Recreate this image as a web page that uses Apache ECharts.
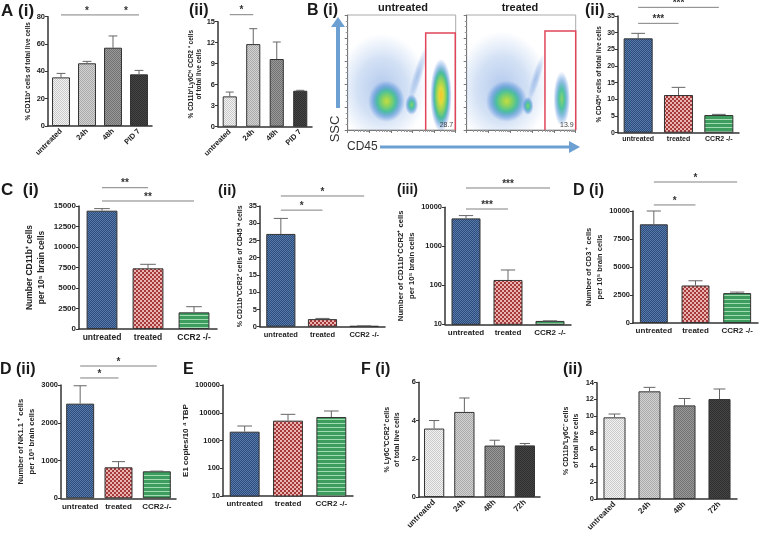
<!DOCTYPE html>
<html><head><meta charset="utf-8">
<script src="https://cdn.jsdelivr.net/npm/echarts@6.0.0/dist/echarts.min.js"></script>
<style>html,body{margin:0;padding:0;background:#fff}#c{width:760px;height:535px}</style>
</head><body><div id="c"></div>
<script>
// ---------------- data ----------------
const catTime = ['untreated', '24h', '48h', 'PID 7'];
const catTimeF = ['untreated', '24h', '48h', '72h'];
const catTrt = ['untreated', 'treated', 'CCR2 -/-'];
const catTrtD2 = ['untreated', 'treated', 'CCR2-/-'];

const aiMean = [35.6, 45.9, 57.3, 37.8];
const aiErr = [38.5, 47.3, 65.9, 40.7];
const aiiMean = [4.33, 11.8, 9.67, 5.14];
const aiiErr = [4.95, 14.0, 12.1, 5.2];
const biiMean = [28.3, 11.3, 5.3];
const biiErr = [29.8, 13.6, 5.5];
const ciMean = [14430, 7400, 2030];
const ciErr = [14680, 7890, 2720];
const ciiMean = [26.9, 2.2, 0.2];
const ciiErr = [31.4, 2.4, 0.25];
const ciiiMean = [5200, 137, 12.2];
const ciiiErr = [6130, 247, 12.3];
const diMean = [8810, 3350, 2670];
const diErr = [10000, 3770, 2760];
const diiMean = [2506, 821, 715];
const diiErr = [2980, 971, 720];
const eMean = [2080, 5190, 7030];
const eErr = [3330, 8770, 11560];
const fiMean = [3.58, 4.45, 2.69, 2.70];
const fiErr = [4.0, 5.18, 2.97, 2.80];
const fiiMean = [9.83, 12.96, 11.27, 12.03];
const fiiErr = [10.23, 13.44, 12.1, 13.24];

// significance brackets: [from category, to category, y (data units), label]
const aiSig = [[0, 2, 81.3, '*'], [2, 3, 81.3, '*']];
const aiiSig = [[0, 1, 16.0, '*']];
const biiSig = [[0, 1, 32.8, '***'], [0, 2, 37.6, '***']];
const ciSig = [[0, 1, 17230, '**'], [0, 2, 15610, '**']];
const ciiSig = [[0, 2, 37.9, '*'], [0, 1, 33.8, '*']];
const ciiiSig = [[0, 2, 31260, '***'], [0, 1, 9040, '***']];
const diSig = [[0, 2, 12590, '*'], [0, 1, 10540, '*']];
const diiSig = [[0, 2, 3503, '*'], [0, 1, 3186, '*']];

// flow cytometry populations: [log10 CD45 centre, SSC % centre, log10 half-width, SSC half-height, density level, tilt]
const flowUntreated = [
  [1.60, 36, 2.1, 48, 0, 0],
  [1.80, 25, 0.85, 18, 2, 0],
  [2.96, 22, 0.3, 9, 1, 0],
  [3.25, 48, 0.22, 26, 0, -0.3],
  [4.32, 30, 0.5, 32, 3, 0]
];
const flowTreated = [
  [1.62, 36, 2.15, 50, 0, 0],
  [1.83, 25, 0.95, 18, 2, 0],
  [2.81, 21, 0.25, 8, 1, 0],
  [3.18, 45, 0.2, 22, 0, -0.3],
  [4.36, 27, 0.38, 24, 1, 0]
];
// gates: [log10 left, SSC top %, log10 right, percentage]
const gateUntreated = [3.61, 84.3, 4.98, '28.7'];
const gateTreated = [3.59, 86, 5.0, '13.9'];

// ---------------- patterns ----------------
function pat(w, h, draw) {
  const c = document.createElement('canvas'); c.width = w; c.height = h;
  draw(c.getContext('2d')); return { image: c, repeat: 'repeat' };
}
function checker(a, b, s) {
  return pat(2 * s, 2 * s, g => { g.fillStyle = a; g.fillRect(0, 0, 2 * s, 2 * s); g.fillStyle = b; g.fillRect(0, 0, s, s); g.fillRect(s, s, s, s); });
}
const FILLS = {
  u: checker('#f3f3f3', '#c9c9c9', 1),
  h24: checker('#d2d2d2', '#aaaaaa', 1),
  h48: checker('#999999', '#727272', 1),
  pid: checker('#454545', '#2f2f2f', 1),
  blue: checker('#2d4b7b', '#567bab', 1),
  red: checker('#a53a3a', '#ebb3b1', 2),
  green: pat(4, 4, g => { g.fillStyle = '#3c9d5e'; g.fillRect(0, 0, 4, 4); g.fillStyle = '#a4dab2'; g.fillRect(0, 3, 4, 1); })
};
const timeFills = ['u', 'h24', 'h48', 'pid'];
const trtFills = ['blue', 'red', 'green'];

const FONT = 'Liberation Sans';
const grids = [], xAxes = [], yAxes = [], series = [];

function barPanel(p) {
  const k = grids.length;
  grids.push({ left: p.grid[0], top: p.grid[1], width: p.grid[2], height: p.grid[3], outerBoundsMode: 'none', containLabel: false });
  xAxes.push({
    type: 'category', gridIndex: k, data: p.cats,
    axisLine: { lineStyle: { color: '#333', width: 1.5 } },
    axisTick: { alignWithLabel: true, length: 3, lineStyle: { color: '#333', width: 1 } },
    axisLabel: { interval: 0, rotate: p.rotate || 0, fontSize: p.xSize, fontWeight: 'bold', color: '#222', fontFamily: FONT, margin: p.xMargin || 4 },
    splitLine: { show: false }
  });
  const y = {
    type: p.log ? 'log' : 'value', gridIndex: k, min: p.min, max: p.max,
    axisLine: { show: true, lineStyle: { color: '#333', width: 1.5 } },
    axisTick: { show: true, length: 3, lineStyle: { color: '#333' } },
    axisLabel: { fontSize: p.tick, fontWeight: 'bold', color: '#222', fontFamily: FONT, margin: 3, formatter: v => String(v) },
    splitLine: { show: false },
    name: p.name, nameLocation: 'middle', nameRotate: 90, nameGap: p.nameGap,
    nameTextStyle: { fontSize: p.nameSize, fontWeight: 'bold', color: '#222', fontFamily: FONT, lineHeight: p.lh || p.nameSize + 2 }
  };
  if (p.log) y.logBase = 10; else y.interval = p.interval;
  yAxes.push(y);
  series.push({
    type: 'bar', xAxisIndex: k, yAxisIndex: k, barCategoryGap: p.gap, clip: true, z: 2,
    data: p.mean.map((v, i) => ({ value: v, itemStyle: { color: FILLS[p.fills[i]], borderColor: '#333', borderWidth: 1 } }))
  });
  series.push({
    type: 'custom', xAxisIndex: k, yAxisIndex: k, z: 3, clip: false,
    data: p.mean.map((v, i) => [i, v, p.err[i]]),
    renderItem(params, api) {
      const i = api.value(0);
      const top = api.coord([i, api.value(2)]);
      const base = api.coord([i, api.value(1)]);
      const hw = api.size([1, 1])[0] * 0.17;
      const st = { stroke: '#666', lineWidth: 1 };
      return { type: 'group', children: [
        { type: 'line', shape: { x1: top[0], y1: base[1], x2: top[0], y2: top[1] }, style: st },
        { type: 'line', shape: { x1: top[0] - hw, y1: top[1], x2: top[0] + hw, y2: top[1] }, style: st }
      ] };
    }
  });
  if (p.sig) {
    const sig = p.sig;
    series.push({
      type: 'custom', xAxisIndex: k, yAxisIndex: k, z: 4, clip: false, silent: true,
      data: sig.map(s => [s[0], s[1], s[2]]),
      renderItem(params, api) {
        const s = sig[params.dataIndex];
        const a = api.coord([s[0], s[2]]), b = api.coord([s[1], s[2]]);
        return { type: 'group', children: [
          { type: 'line', shape: { x1: a[0], y1: a[1], x2: b[0], y2: b[1] }, style: { stroke: '#808080', lineWidth: 1 } },
          { type: 'text', x: (a[0] + b[0]) / 2, y: a[1] + 1, style: { text: s[3], textAlign: 'center', textVerticalAlign: 'bottom', font: 'bold 10px ' + FONT, fill: '#333' } }
        ] };
      }
    });
  }
}

const GRAD = [
  [[0, 'rgba(70,125,210,0.42)'], [0.55, 'rgba(80,135,215,0.25)'], [1, 'rgba(90,145,220,0)']],
  [[0, '#86d46a'], [0.35, '#4fc3a0'], [0.7, 'rgba(50,130,210,0.45)'], [1, 'rgba(60,120,210,0)']],
  [[0, '#c6dc40'], [0.25, '#88d262'], [0.5, '#4cc09c'], [0.78, 'rgba(50,125,210,0.4)'], [1, 'rgba(60,120,210,0)']],
  [[0, '#f6c42a'], [0.2, '#e0db3c'], [0.42, '#92d35c'], [0.62, '#48bd9c'], [0.82, 'rgba(50,125,210,0.4)'], [1, 'rgba(60,120,210,0)']]
];

function flowPanel(g, blobs, gate) {
  const k = grids.length;
  grids.push({ left: g[0], top: g[1], width: g[2], height: g[3], outerBoundsMode: 'none', containLabel: false, show: true, borderColor: '#aaa', borderWidth: 1 });
  xAxes.push({ type: 'log', logBase: 10, gridIndex: k, min: 1, max: 100000,
    axisLine: { lineStyle: { color: '#777', width: 1 } }, axisLabel: { show: false },
    axisTick: { show: true, length: 3, lineStyle: { color: '#777' } },
    minorTick: { show: true, length: 2, splitNumber: 9, lineStyle: { color: '#999' } }, splitLine: { show: false } });
  yAxes.push({ type: 'value', gridIndex: k, min: 0, max: 100, interval: 20,
    axisLine: { show: true, lineStyle: { color: '#777', width: 1 } }, axisLabel: { show: false },
    axisTick: { show: true, length: 3, lineStyle: { color: '#777' } },
    minorTick: { show: true, length: 2, splitNumber: 4, lineStyle: { color: '#999' } }, splitLine: { show: false } });
  series.push({
    type: 'custom', xAxisIndex: k, yAxisIndex: k, clip: true, z: 2, silent: true,
    data: blobs.map(b => [Math.pow(10, b[0]), b[1]]),
    renderItem(params, api) {
      const b = blobs[params.dataIndex];
      const c = api.coord([Math.pow(10, b[0]), b[1]]);
      const cx = api.coord([Math.pow(10, b[0] + b[2]), b[1]]);
      const cy = api.coord([Math.pow(10, b[0]), b[1] + b[3]]);
      const rx = cx[0] - c[0], ry = c[1] - cy[1];
      return { type: 'circle', x: c[0], y: c[1], rotation: b[5], scaleX: rx / 50, scaleY: ry / 50,
        shape: { cx: 0, cy: 0, r: 50 },
        style: { fill: { type: 'radial', x: 0.5, y: 0.5, r: 0.5, colorStops: GRAD[b[4]].map(s => ({ offset: s[0], color: s[1] })) } } };
    }
  });
  series.push({
    type: 'custom', xAxisIndex: k, yAxisIndex: k, clip: false, z: 5, silent: true,
    data: [[Math.pow(10, gate[0]), gate[1]]],
    renderItem(params, api) {
      const l = api.coord([Math.pow(10, gate[0]), 0]);
      const t = api.coord([Math.pow(10, gate[0]), gate[1]]);
      const r = api.coord([Math.pow(10, gate[2]), 0]);
      return { type: 'group', children: [
        { type: 'polyline', shape: { points: [[l[0], l[1]], [t[0], t[1]], [r[0], t[1]], [r[0], r[1]]] }, style: { stroke: '#e0455a', lineWidth: 1.5, fill: null } },
        { type: 'text', x: r[0] - 2, y: r[1] - 1, style: { text: gate[3], textAlign: 'right', textVerticalAlign: 'bottom', font: '7px ' + FONT, fill: '#444' } }
      ] };
    }
  });
}

// ---------------- panels ----------------
barPanel({ grid: [48, 16.7, 104, 109.3], cats: catTime, mean: aiMean, err: aiErr, fills: timeFills, min: 0, max: 80, interval: 20, gap: '31%',
  name: '% CD11b⁺ cells of total live cells', nameSize: 6.5, nameGap: 14.5, tick: 7.5, xSize: 7.5, rotate: 45, sig: aiSig });
barPanel({ grid: [218, 21.7, 94, 105], cats: catTime, mean: aiiMean, err: aiiErr, fills: timeFills, min: 0, max: 15, interval: 3, gap: '40%',
  name: '% CD11b⁺Ly6Cʰⁱ CCR2 ⁺ cells\nof total live cells', nameSize: 6.5, lh: 8, nameGap: 9.5, tick: 7.5, xSize: 7.5, rotate: 45, sig: aiiSig });
flowPanel([347.7, 15, 108, 115], flowUntreated, gateUntreated);
flowPanel([466.7, 15, 109, 115], flowTreated, gateTreated);
barPanel({ grid: [618, 16, 121, 116.7], cats: catTrt, mean: biiMean, err: biiErr, fills: trtFills, min: 0, max: 35, interval: 5, gap: '28%',
  name: '% CD45ʰⁱ cells of total live cells', nameSize: 6.5, nameGap: 5.5, tick: 7, xSize: 7, xMargin: 3, sig: biiSig });
barPanel({ grid: [79, 206, 138, 123], cats: catTrt, mean: ciMean, err: ciErr, fills: trtFills, min: 0, max: 15000, interval: 2500, gap: '33%',
  name: 'Number CD11b⁺ cells\nper 10⁵ brain cells', nameSize: 8.5, lh: 12, nameGap: 31, tick: 8, xSize: 8.5, xMargin: 4, sig: ciSig });
barPanel({ grid: [260, 206, 125, 120.7], cats: catTrt, mean: ciiMean, err: ciiErr, fills: trtFills, min: 0, max: 35, interval: 5, gap: '30%',
  name: '% CD11b⁺CCR2⁺ cells of CD45 ʰⁱ cells', nameSize: 7, nameGap: 12, tick: 7.5, xSize: 7.5, xMargin: 4, sig: ciiSig });
barPanel({ grid: [445, 207.3, 126, 117], cats: catTrt, mean: ciiiMean, err: ciiiErr, fills: trtFills, log: true, min: 10, max: 10000, gap: '31%',
  name: 'Number of CD11b⁺CCR2⁺ cells\nper 10⁵ brain cells', nameSize: 7.7, lh: 11, nameGap: 26, tick: 7.5, xSize: 8, xMargin: 4, sig: ciiiSig });
barPanel({ grid: [633, 211, 125, 112], cats: catTrt, mean: diMean, err: diErr, fills: trtFills, min: 0, max: 10000, interval: 2500, gap: '33%',
  name: 'Number of CD3 ⁺ cells\nper 10⁵ brain cells', nameSize: 7.5, lh: 11, nameGap: 24.5, tick: 7.5, xSize: 8, xMargin: 4, sig: diSig });
barPanel({ grid: [61, 385, 115, 113.3], cats: catTrtD2, mean: diiMean, err: diiErr, fills: trtFills, min: 0, max: 3000, interval: 1000, gap: '27%',
  name: 'Number of NK1.1 ⁺ cells\nper 10⁵ brain cells', nameSize: 7.6, lh: 11, nameGap: 20, tick: 7.5, xSize: 8, xMargin: 4, sig: diiSig });
barPanel({ grid: [223, 385, 130, 111], cats: catTrt, mean: eMean, err: eErr, fills: trtFills, log: true, min: 10, max: 100000, gap: '31%',
  name: 'E1 copies/10 ⁴ TBP', nameSize: 8, nameGap: 28, tick: 7.5, xSize: 8, xMargin: 4 });
barPanel({ grid: [419, 382.3, 121, 114.7], cats: catTimeF, mean: fiMean, err: fiErr, fills: timeFills, min: 0, max: 6, interval: 2, gap: '33%',
  name: '% Ly6C⁺CCR2⁺ cells\nof total live cells', nameSize: 7, lh: 10.5, nameGap: 16.5, tick: 7.5, xSize: 8, rotate: 45 });
barPanel({ grid: [597, 382.7, 140, 116.3], cats: catTimeF, mean: fiiMean, err: fiiErr, fills: timeFills, min: 0, max: 14, interval: 2, gap: '37%',
  name: '% CD11b⁺Ly6C⁻ cells\nof total live cells', nameSize: 7, lh: 10.5, nameGap: 15, tick: 7.5, xSize: 8, rotate: 45 });

// ---------------- text & arrows ----------------
function txt(x, y, s, size, weight, extra) {
  return Object.assign({ type: 'text', x: x, y: y, style: { text: s, font: (weight || 'bold') + ' ' + size + 'px ' + FONT, fill: '#1a1a1a', textVerticalAlign: 'top' } }, extra || {});
}
const ARROW = '#6c9fd2';
const graphics = [
  txt(1, 3, 'A (i)', 17), txt(189, 3, '(ii)', 16),
  txt(307, 3, 'B (i)', 16), txt(585, 3, '(ii)', 16),
  txt(1, 182, 'C  (i)', 17), txt(218, 183, '(ii)', 15), txt(397, 183, '(iii)', 14), txt(573, 183, 'D (i)', 16),
  txt(0, 362, 'D (ii)', 16), txt(183, 362, 'E', 16), txt(361, 362, 'F (i)', 16), txt(563, 362, '(ii)', 16),
  { type: 'text', x: 403, y: 2, style: { text: 'untreated', font: 'bold 11px ' + FONT, fill: '#1a1a1a', textAlign: 'center', textVerticalAlign: 'top' } },
  { type: 'text', x: 520, y: 2, style: { text: 'treated', font: 'bold 11px ' + FONT, fill: '#1a1a1a', textAlign: 'center', textVerticalAlign: 'top' } },
  { type: 'line', shape: { x1: 338, y1: 108, x2: 338, y2: 26 }, style: { stroke: ARROW, lineWidth: 4 } },
  { type: 'polygon', shape: { points: [[331, 27], [345, 27], [338, 17]] }, style: { fill: ARROW } },
  { type: 'line', shape: { x1: 380, y1: 147, x2: 570, y2: 147 }, style: { stroke: ARROW, lineWidth: 3 } },
  { type: 'polygon', shape: { points: [[569, 141], [569, 153], [580, 147]] }, style: { fill: ARROW } },
  { type: 'text', x: 335, y: 129, rotation: Math.PI / 2, style: { text: 'SSC', font: '13px ' + FONT, fill: '#333', textAlign: 'center', textVerticalAlign: 'middle' } },
  { type: 'text', x: 347, y: 147, style: { text: 'CD45', font: '12px ' + FONT, fill: '#333', textAlign: 'left', textVerticalAlign: 'middle' } }
];

const chart = echarts.init(document.getElementById('c'), null, { renderer: 'canvas' });
chart.setOption({
  animation: false, backgroundColor: '#fff',
  grid: grids, xAxis: xAxes, yAxis: yAxes, series: series, graphic: graphics
});
</script></body></html>
